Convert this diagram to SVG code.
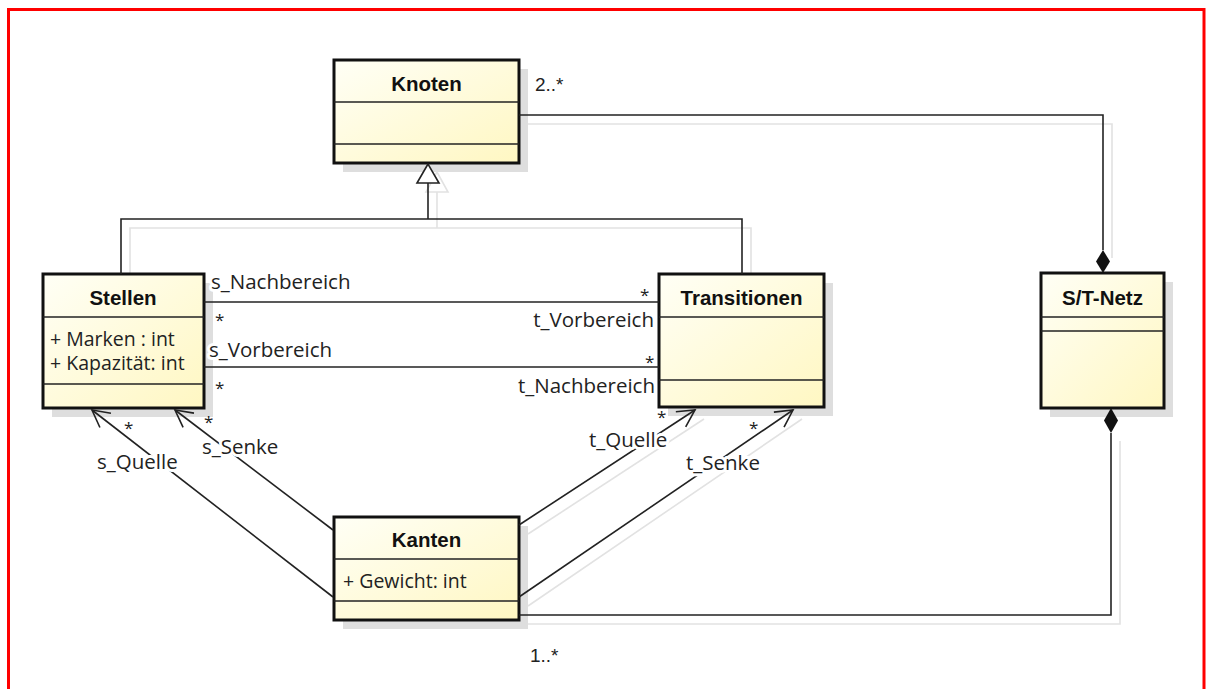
<svg xmlns="http://www.w3.org/2000/svg" width="1208" height="689" viewBox="0 0 1208 689">
<defs>
<linearGradient id="fillG" x1="0" y1="0" x2="1" y2="1">
<stop offset="0" stop-color="#fffff6"/>
<stop offset="1" stop-color="#fff7c2"/>
</linearGradient>
<marker id="openArrow" viewBox="-20 -11 22 22" markerWidth="22" markerHeight="22" refX="0" refY="0" orient="auto" markerUnits="userSpaceOnUse">
<path d="M -17,-9 L 0,0 L -17,9" fill="none" stroke="#222" stroke-width="1.6"/>
</marker>
</defs>
<style>
.box{fill:url(#fillG);stroke:#111;stroke-width:3}
.shadow{fill:#dedede}
.div{stroke:#222;stroke-width:1.5}
.title{font-family:"Liberation Sans",Arial,sans-serif;font-weight:bold;font-size:20.5px;fill:#111;text-anchor:middle}
.attr{font-family:"Open Sans","DejaVu Sans",sans-serif;font-size:19.5px;fill:#222}
.lbl{font-family:"Open Sans","DejaVu Sans",sans-serif;font-size:20.5px;fill:#222;stroke:#fff;stroke-width:6;paint-order:stroke;stroke-linejoin:round}
.star{font-family:"Open Sans","DejaVu Sans",sans-serif;font-size:17px;fill:#222}
.mult{font-family:"Liberation Sans",Arial,sans-serif;font-size:19px;fill:#222}
.conn{fill:none;stroke:#222;stroke-width:1.6}
.sconn{fill:none;stroke:#e2e2e2;stroke-width:1.6}
</style>
<rect x="0" y="0" width="1208" height="689" fill="#fff"/>
<rect x="8.5" y="9.5" width="1195.5" height="700" fill="none" stroke="#ff0000" stroke-width="3"/>

<g id="connector-shadows">
<polyline class="sconn" points="130,282 130,228 751,228 751,282"/>
<line class="sconn" x1="437" y1="228" x2="437" y2="192"/>
<polygon points="437,172 426,192 448,192" fill="none" stroke="#e2e2e2" stroke-width="1.6"/>
<polyline class="sconn" points="527,124 1112,124 1112,258"/>
<polyline class="sconn" points="527,624 1120,624 1120,441"/>
<line class="sconn" x1="528" y1="534" x2="704" y2="419"/>
<line class="sconn" x1="528" y1="606" x2="802" y2="419"/>
</g>

<g id="Knoten">
<rect class="shadow" x="343" y="69" width="185" height="103"/>
<rect class="box" x="334" y="60" width="185" height="103"/>
<line class="div" x1="334" y1="102" x2="519" y2="102"/>
<line class="div" x1="334" y1="144" x2="519" y2="144"/>
<text class="title" x="426.5" y="91">Knoten</text>
</g>

<g id="Stellen">
<rect class="shadow" x="52" y="283" width="161" height="134"/>
<rect class="box" x="43" y="274" width="161" height="134"/>
<line class="div" x1="43" y1="317" x2="204" y2="317"/>
<line class="div" x1="43" y1="384" x2="204" y2="384"/>
<text class="title" x="123" y="305">Stellen</text>
<text class="attr" x="50" y="346">+ Marken : int</text>
<text class="attr" x="50" y="370">+ Kapazität: int</text>
</g>

<g id="Transitionen">
<rect class="shadow" x="668" y="283" width="165" height="133"/>
<rect class="box" x="659" y="274" width="165" height="133"/>
<line class="div" x1="659" y1="317" x2="824" y2="317"/>
<line class="div" x1="659" y1="380" x2="824" y2="380"/>
<text class="title" x="741.5" y="305">Transitionen</text>
</g>

<g id="ST-Netz">
<rect class="shadow" x="1050" y="282" width="123" height="135"/>
<rect class="box" x="1041" y="273" width="123" height="135"/>
<line class="div" x1="1041" y1="317" x2="1164" y2="317"/>
<line class="div" x1="1041" y1="331" x2="1164" y2="331"/>
<text class="title" x="1102.5" y="305">S/T-Netz</text>
</g>

<g id="Kanten">
<rect class="shadow" x="343" y="526" width="185" height="103"/>
<rect class="box" x="334" y="517" width="185" height="103"/>
<line class="div" x1="334" y1="559" x2="519" y2="559"/>
<line class="div" x1="334" y1="601" x2="519" y2="601"/>
<text class="title" x="426.5" y="547">Kanten</text>
<text class="attr" x="343" y="588">+ Gewicht: int</text>
</g>

<g id="connectors">
<polyline class="conn" points="121,274 121,219 742,219 742,274"/>
<line class="conn" x1="428" y1="219" x2="428" y2="183"/>
<polygon points="428,164 417,183 439,183" fill="#fff" stroke="#222" stroke-width="1.6"/>
<polyline class="conn" points="519,115 1103,115 1103,250"/>
<path d="M1103,250 L1110,261.5 L1103,273 L1096,261.5 Z" fill="#111"/>
<polyline class="conn" points="519,615 1111,615 1111,433"/>
<path d="M1111,408 L1118,420.5 L1111,433 L1104,420.5 Z" fill="#111"/>
<line class="conn" x1="204" y1="302" x2="659" y2="302"/>
<line class="conn" x1="204" y1="367" x2="659" y2="367"/>
<line class="conn" x1="333" y1="597" x2="92" y2="410" marker-end="url(#openArrow)"/>
<line class="conn" x1="333" y1="530" x2="175" y2="410" marker-end="url(#openArrow)"/>
<line class="conn" x1="519" y1="525" x2="695" y2="410" marker-end="url(#openArrow)"/>
<line class="conn" x1="519" y1="597" x2="793" y2="410" marker-end="url(#openArrow)"/>
</g>

<g id="labels">
<text class="mult" x="535" y="91">2..*</text>
<text class="mult" x="530" y="662">1..*</text>
<text class="lbl" x="211" y="289">s_Nachbereich</text>
<text class="lbl" x="654" y="327" text-anchor="end">t_Vorbereich</text>
<text class="lbl" x="209" y="357">s_Vorbereich</text>
<text class="lbl" x="655" y="393" text-anchor="end">t_Nachbereich</text>
<text class="star" x="215" y="326">*</text>
<text class="star" x="640" y="301">*</text>
<text class="star" x="215" y="394">*</text>
<text class="star" x="645" y="368">*</text>
<text class="lbl" x="97" y="469">s_Quelle</text>
<text class="lbl" x="202" y="454">s_Senke</text>
<text class="lbl" x="589" y="447">t_Quelle</text>
<text class="lbl" x="686" y="470">t_Senke</text>
<text class="star" x="124" y="434">*</text>
<text class="star" x="204" y="428">*</text>
<text class="star" x="657" y="423">*</text>
<text class="star" x="749" y="434">*</text>
</g>
</svg>
